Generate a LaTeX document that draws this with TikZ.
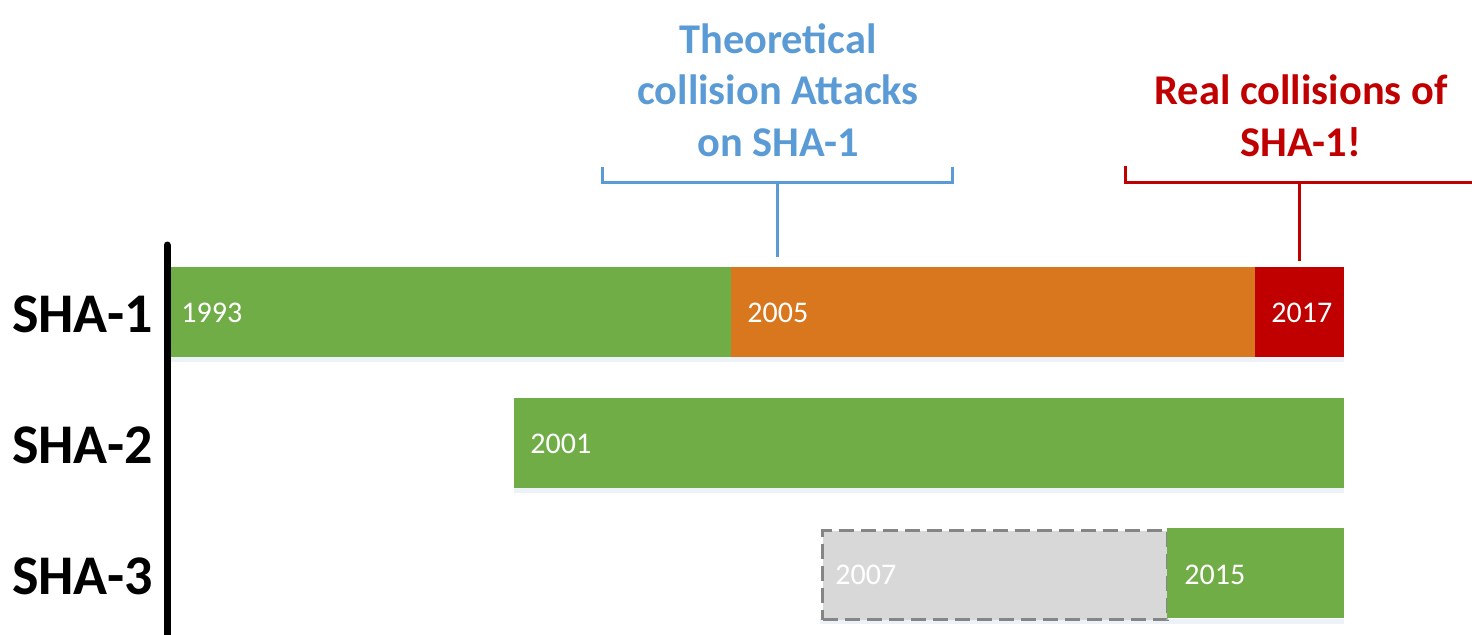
\documentclass[tikz,border=0pt]{standalone}
\usepackage{fontspec}
\setmainfont{Carlito}
\definecolor{sgreen}{HTML}{70AD47}
\definecolor{sorange}{HTML}{D8771E}
\definecolor{sred}{HTML}{C00000}
\definecolor{sblue}{HTML}{5B9BD5}
\definecolor{sgray}{HTML}{D8D8D8}
\definecolor{sdash}{HTML}{858585}
\definecolor{sshadow}{HTML}{EDF2F9}
\begin{document}
\begin{tikzpicture}[x=0.5pt,y=-0.5pt,
  bar/.style={rectangle, draw=none, inner sep=0pt, minimum height=45pt, anchor=north west},
  year/.style={text=white, font=\fontsize{15}{18}\selectfont, inner sep=0pt, anchor=west},
  sha/.style={font=\fontsize{28}{33}\selectfont\bfseries, inner sep=0pt, anchor=east},
  title/.style={font=\fontsize{21.2}{25.8}\selectfont\bfseries, align=center, inner sep=0pt},
  brk/.style={line width=1.5pt}
]
\useasboundingbox (0,0) rectangle (1472,634);
% shadows
\fill[sshadow] (171,357) rectangle (1344,362);
\fill[sshadow] (514,488) rectangle (1344,493);
\fill[sshadow] (820,619) rectangle (1344,624);
% axis
\draw[line width=3.5pt, line cap=round] (167,245) -- (167,640);
% SHA-1 bars
\node[bar, fill=sgreen, minimum width=280pt] (b1993) at (171,267) {};
\node[bar, fill=sorange, minimum width=262pt] (b2005) at (731,267) {};
\node[bar, fill=sred, minimum width=44.5pt] (b2017) at (1255,267) {};
% SHA-2
\node[bar, fill=sgreen, minimum width=415pt] (b2001) at (514,398) {};
% SHA-3
\node[bar, fill=sgray, draw=sdash, line width=1.6pt, dash pattern=on 7.5pt off 3.5pt, minimum width=172.5pt, minimum height=44.5pt] (b2007) at (821,529) {};
\node[bar, fill=sgreen, minimum width=88.5pt] (b2015) at (1167,528) {};
% years
\node[year] (t1993) at (181,313) {1993};
\node[year] (t2005) at (747,313) {2005};
\node[year] (t2017) at (1271,313) {2017};
\node[year] (t2001) at (530,444) {2001};
\node[year] (t2007) at (835,575) {2007};
\node[year] (t2015) at (1184,575) {2015};
% labels
\node[sha] (l1) at (153,314) {SHA-1};
\node[sha] (l2) at (153,445) {SHA-2};
\node[sha] (l3) at (153,576) {SHA-3};
% blue bracket
\node[title, text=sblue] (ttheo) at (778,90) {Theoretical\\collision Attacks\\on SHA-1};
\coordinate (bl) at (777,182);
\coordinate (blstem) at (777,267);
\draw[brk, sblue] (602,167) -- (602,182) -- (952,182) -- (952,167);
\draw[brk, sblue] (bl) -- ([yshift=5pt]blstem);
% red bracket
\node[title, text=sred] (treal) at (1301,116) {Real collisions of\\SHA-1!};
\coordinate (rl) at (1299,182);
\coordinate (rlstem) at (1299,267);
\draw[brk, sred] (1125,166) -- (1125,182) -- (1480,182);
\draw[brk, sred] (rl) -- ([yshift=3pt]rlstem);
\end{tikzpicture}
\end{document}
